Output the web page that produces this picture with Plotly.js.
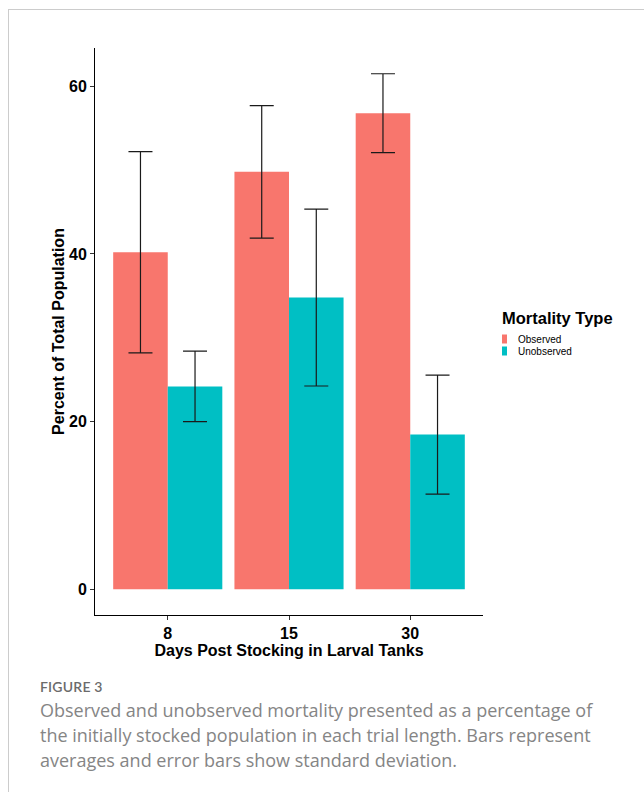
<!DOCTYPE html>
<html>
<head>
<meta charset="utf-8">
<script src="https://cdn.plot.ly/plotly-3.0.1.min.js"></script>
<style>
  html, body { margin: 0; padding: 0; background: #ffffff; width: 644px; height: 792px; overflow: hidden; }
  #frame { position: absolute; left: 8px; top: 9px; width: 660px; height: 800px;
           border-top: 1px solid #cccccc; border-left: 1px solid #cccccc; }
  #chart { position: absolute; left: 0; top: 0; width: 644px; height: 792px; }
  .cap { position: absolute; left: 40px; white-space: nowrap; }
  #fig { top: 678px; line-height: 18px; font-family: Lato, "Open Sans", sans-serif; font-size: 14px; color: #6b6b6b; font-weight: 600; letter-spacing: 0.2px; }
  #c1, #c2, #c3 { font-family: "Open Sans", Lato, sans-serif; font-size: 18px; line-height: 24px; color: #858585; font-weight: 400; }
  #c1 { top: 698px; } #c2 { top: 723px; } #c3 { top: 748px; }
</style>
</head>
<body>
<div id="frame"></div>
<div id="chart"></div>
<div class="cap" id="fig">FIGURE 3</div>
<div class="cap" id="c1">Observed and unobserved mortality presented as a percentage of</div>
<div class="cap" id="c2">the initially stocked population in each trial length. Bars represent</div>
<div class="cap" id="c3">averages and error bars show standard deviation.</div>
<script>
// ---- data ----
const days = ['8', '15', '30'];
const observed = [40.2, 49.8, 56.8];
const observedSD = [12.0, 7.9, 4.7];
const unobserved = [24.2, 34.8, 18.45];
const unobservedSD = [4.2, 10.55, 7.1];
const seriesNames = ['Observed', 'Unobserved'];
const seriesColors = ['#F8766D', '#00BFC4'];
const yTicks = [0, 20, 40, 60];

const font = 'Liberation Sans, Arial, sans-serif';
const errStyle = { type: 'data', visible: true, color: '#1a1a1a', thickness: 1.2, width: 12 };

const traces = [
  { type: 'bar', name: seriesNames[0], x: days, y: observed,
    marker: { color: seriesColors[0], line: { width: 0 } },
    error_y: Object.assign({ array: observedSD }, errStyle), showlegend: false },
  { type: 'bar', name: seriesNames[1], x: days, y: unobserved,
    marker: { color: seriesColors[1], line: { width: 0 } },
    error_y: Object.assign({ array: unobservedSD }, errStyle), showlegend: false }
];

// plot area in pixels: x 95..483, y 48..615
const L = 95, R = 483, T = 48, B = 615;
const px = v => (v - L) / (R - L);
const py = v => (B - v) / (B - T);

const shapes = [];
const annotations = [
  { text: '<b>Mortality Type</b>', xref: 'paper', yref: 'paper', x: px(500), y: py(318),
    xanchor: 'left', yanchor: 'middle', showarrow: false, font: { family: font, size: 16.5, color: '#000' } }
];
seriesNames.forEach((n, i) => {
  const cy = 339 + i * 12;
  shapes.push({ type: 'rect', xref: 'paper', yref: 'paper', x0: px(502), x1: px(507),
    y0: py(cy - 4.5), y1: py(cy + 4.5), fillcolor: seriesColors[i], line: { width: 0 } });
  annotations.push({ text: n, xref: 'paper', yref: 'paper', x: px(516), y: py(cy),
    xanchor: 'left', yanchor: 'middle', showarrow: false, font: { family: font, size: 10, color: '#000' } });
});

const layout = {
  width: 644, height: 792,
  margin: { l: L, r: 644 - R, t: T, b: 792 - B, pad: 0 },
  paper_bgcolor: 'rgba(0,0,0,0)', plot_bgcolor: 'rgba(0,0,0,0)',
  barmode: 'group', bargap: 0.1, bargroupgap: 0,
  showlegend: false,
  font: { family: font, color: '#000' },
  xaxis: {
    type: 'category', range: [-0.6, 2.6], showgrid: false, zeroline: false,
    showline: true, linecolor: '#000', linewidth: 1,
    ticks: 'outside', ticklen: 4, tickcolor: '#333', tickwidth: 1,
    tickfont: { family: font, size: 16, color: '#000', weight: 'bold' },
    title: { text: '<b>Days Post Stocking in Larval Tanks</b>', font: { family: font, size: 16, color: '#000' }, standoff: 0 }
  },
  yaxis: {
    range: [-3.075, 64.575], showgrid: false, zeroline: false,
    showline: true, linecolor: '#000', linewidth: 1,
    tickvals: yTicks, ticktext: yTicks.map(String),
    ticks: 'outside', ticklen: 4, tickcolor: '#333', tickwidth: 1,
    tickfont: { family: font, size: 16, color: '#000', weight: 'bold' },
    title: { text: '<b>Percent of Total Population</b>', font: { family: font, size: 16, color: '#000' }, standoff: 0 }
  },
  shapes: shapes,
  annotations: annotations
};

Plotly.newPlot('chart', traces, layout, { displayModeBar: false, staticPlot: true });
</script>
</body>
</html>
